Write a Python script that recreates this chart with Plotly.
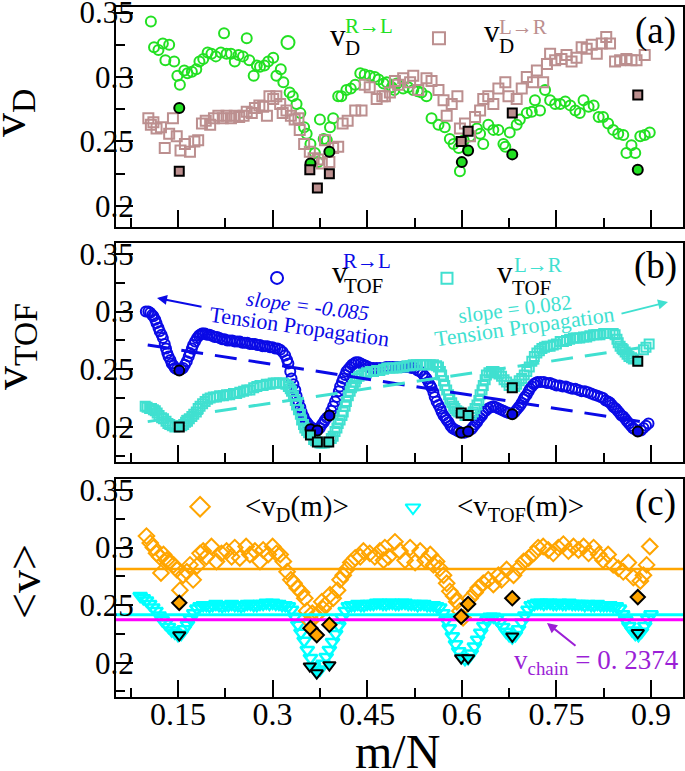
import plotly.graph_objects as go

# ---------------- data ----------------
x_tick_vals = [0.15, 0.3, 0.45, 0.6, 0.75, 0.9]
x_tick_text = ["0.15", "0.3", "0.45", "0.6", "0.75", "0.9"]
x_minor_vals = [0.075, 0.225, 0.375, 0.525, 0.675, 0.825]
y_tick_vals = [0.2, 0.25, 0.3, 0.35]
y_tick_text = ["0.2", "0.25", "0.3", "0.35"]
y_minor_vals = [0.175, 0.225, 0.275, 0.325]

# panel (a): v_D  R->L (green circles)
vd_rl_x = [0.107,0.112,0.119,0.126,0.130,0.136,0.144,0.149,0.153,0.160,0.165,0.172,0.179,0.184,0.190,0.197,0.203,0.210,0.218,0.223,
           0.227,0.234,0.240,0.246,0.253,0.259,0.263,0.270,0.275,0.280,0.287,0.293,0.301,0.306,0.313,0.317,0.327,0.332,0.338,0.344,
           0.350,0.354,0.360,0.367,0.372,0.375,0.381,0.386,0.391,0.396,0.404,0.409,0.417,0.424,0.431,0.439,0.446,0.454,0.462,0.468,
           0.476,0.481,0.489,0.493,0.497,0.507,0.515,0.523,0.530,0.536,0.544,0.552,0.563,0.573,0.581,0.587,0.595,0.597,0.603,0.613,
           0.624,0.629,0.634,0.642,0.650,0.658,0.666,0.669,0.676,0.687,0.692,0.703,0.711,0.716,0.724,0.732,0.740,0.748,0.756,0.764,
           0.772,0.780,0.787,0.793,0.801,0.809,0.817,0.824,0.832,0.840,0.848,0.856,0.861,0.869,0.875,0.883,0.890,0.898]
vd_rl_y = [0.343,0.323,0.321,0.326,0.313,0.325,0.312,0.301,0.294,0.305,0.303,0.304,0.306,0.312,0.314,0.319,0.318,0.316,0.319,0.334,
           0.318,0.318,0.312,0.317,0.316,0.330,0.313,0.301,0.309,0.308,0.309,0.312,0.315,0.301,0.306,0.296,0.288,0.285,0.279,0.272,
           0.261,0.256,0.248,0.241,0.234,0.267,0.252,0.251,0.261,0.268,0.285,0.285,0.290,0.291,0.294,0.303,0.302,0.301,0.300,0.298,
           0.295,0.296,0.292,0.290,0.295,0.291,0.292,0.290,0.289,0.288,0.285,0.268,0.263,0.261,0.252,0.248,0.245,0.227,0.251,0.254,
           0.260,0.256,0.248,0.263,0.259,0.259,0.248,0.246,0.257,0.263,0.267,0.272,0.273,0.282,0.274,0.290,0.282,0.279,0.279,0.281,
           0.278,0.274,0.272,0.282,0.277,0.278,0.269,0.269,0.264,0.259,0.256,0.255,0.241,0.247,0.241,0.254,0.255,0.257]

# panel (a): v_D  L->R (rosy-brown squares)
vd_lr_x = [0.103,0.107,0.111,0.116,0.123,0.129,0.136,0.142,0.148,0.154,0.161,0.169,0.176,0.182,0.188,0.194,0.201,0.207,0.214,0.221,
           0.227,0.234,0.240,0.247,0.254,0.259,0.267,0.272,0.279,0.285,0.291,0.295,0.301,0.306,0.312,0.316,0.322,0.329,0.335,0.341,
           0.343,0.350,0.359,0.365,0.372,0.378,0.383,0.390,0.396,0.404,0.411,0.419,0.431,0.441,0.446,0.454,0.465,0.474,0.478,0.486,
           0.494,0.499,0.507,0.518,0.523,0.531,0.544,0.552,0.563,0.571,0.576,0.584,0.593,0.597,0.605,0.613,0.621,0.629,0.634,0.642,
           0.650,0.658,0.669,0.674,0.687,0.695,0.703,0.713,0.719,0.729,0.735,0.740,0.748,0.758,0.766,0.774,0.782,0.790,0.798,0.806,
           0.814,0.822,0.829,0.835,0.843,0.851,0.861,0.869,0.877,0.890]
vd_lr_y = [0.268,0.263,0.265,0.260,0.261,0.245,0.256,0.268,0.254,0.243,0.248,0.242,0.250,0.251,0.264,0.266,0.263,0.268,0.270,0.268,
           0.270,0.268,0.270,0.269,0.270,0.273,0.272,0.276,0.278,0.277,0.270,0.285,0.283,0.285,0.279,0.272,0.274,0.270,0.267,0.268,
           0.259,0.248,0.242,0.237,0.236,0.233,0.251,0.234,0.245,0.246,0.264,0.266,0.274,0.274,0.294,0.292,0.283,0.285,0.285,0.288,
           0.297,0.294,0.299,0.296,0.301,0.290,0.299,0.297,0.290,0.282,0.270,0.279,0.285,0.260,0.264,0.254,0.269,0.274,0.283,0.285,
           0.279,0.291,0.296,0.285,0.283,0.291,0.300,0.296,0.305,0.296,0.310,0.318,0.313,0.314,0.317,0.312,0.315,0.323,0.322,0.325,
           0.318,0.326,0.331,0.326,0.312,0.313,0.314,0.313,0.313,0.317]

# highlighted (filled) points, panel (a)
vd_rl_hl_x = [0.152, 0.360, 0.390, 0.600, 0.610, 0.680, 0.879]
vd_rl_hl_y = [0.276, 0.233, 0.242, 0.234, 0.243, 0.240, 0.228]
vd_lr_hl_x = [0.152, 0.359, 0.371, 0.390, 0.599, 0.610, 0.680, 0.879]
vd_lr_hl_y = [0.227, 0.228, 0.214, 0.225, 0.250, 0.258, 0.272, 0.286]

# panel (b): v_TOF  R->L (blue circles)
vtof_rl_x = [0.099,0.103,0.106,0.109,0.111,0.114,0.116,0.119,0.121,0.124,0.126,0.129,0.131,0.133,0.135,0.138,0.140,0.143,0.145,0.148,
             0.155,0.158,0.161,0.164,0.167,0.169,0.172,0.174,0.177,0.180,0.183,0.185,0.188,0.190,0.193,0.196,0.200,0.204,0.208,0.212,
             0.216,0.220,0.224,0.228,0.232,0.236,0.240,0.244,0.248,0.252,0.256,0.260,0.264,0.268,0.272,0.276,0.280,0.284,0.288,0.292,
             0.296,0.300,0.304,0.308,0.312,0.316,0.320,0.323,0.325,0.328,0.330,0.333,0.336,0.338,0.341,0.344,0.346,0.349,0.351,0.354,
             0.357,0.360,0.363,0.366,0.369,0.375,0.378,0.381,0.383,0.386,0.393,0.396,0.399,0.402,0.405,0.407,0.410,0.412,0.415,0.417,
             0.420,0.423,0.426,0.429,0.432,0.436,0.440,0.444,0.448,0.452,0.456,0.460,0.465,0.470,0.475,0.480,0.485,0.490,0.495,0.500,
             0.505,0.510,0.515,0.520,0.525,0.530,0.534,0.538,0.541,0.544,0.547,0.550,0.552,0.555,0.557,0.560,0.563,0.566,0.568,0.571,
             0.574,0.576,0.579,0.582,0.585,0.588,0.592,0.595,0.604,0.615,0.618,0.621,0.624,0.626,0.629,0.632,0.634,0.638,0.642,0.646,
             0.650,0.654,0.658,0.662,0.666,0.670,0.674,0.684,0.687,0.690,0.693,0.695,0.698,0.700,0.703,0.706,0.708,0.711,0.714,0.717,
             0.720,0.725,0.730,0.735,0.740,0.745,0.750,0.755,0.760,0.765,0.770,0.775,0.780,0.785,0.790,0.795,0.800,0.805,0.810,0.815,
             0.820,0.824,0.828,0.832,0.835,0.838,0.841,0.844,0.847,0.850,0.853,0.856,0.859,0.862,0.865,0.868,0.871,0.874,0.884,0.888,
             0.892,0.896]
vtof_rl_y = [0.300,0.300,0.299,0.297,0.296,0.293,0.290,0.286,0.283,0.280,0.277,0.272,0.268,0.264,0.261,0.258,0.255,0.253,0.251,0.250,
             0.250,0.251,0.254,0.257,0.261,0.264,0.268,0.271,0.274,0.277,0.279,0.280,0.281,0.281,0.281,0.280,0.280,0.279,0.278,0.278,
             0.277,0.276,0.276,0.275,0.275,0.275,0.274,0.274,0.274,0.273,0.273,0.273,0.272,0.272,0.272,0.271,0.271,0.270,0.270,0.270,
             0.269,0.269,0.268,0.268,0.267,0.265,0.262,0.258,0.255,0.248,0.242,0.237,0.232,0.227,0.222,0.217,0.213,0.209,0.206,0.204,
             0.202,0.200,0.199,0.198,0.197,0.199,0.202,0.204,0.206,0.208,0.214,0.218,0.222,0.226,0.231,0.235,0.239,0.242,0.245,0.248,
             0.250,0.252,0.254,0.255,0.256,0.256,0.255,0.254,0.253,0.252,0.251,0.251,0.251,0.251,0.251,0.252,0.252,0.252,0.252,0.252,
             0.252,0.252,0.252,0.251,0.251,0.249,0.248,0.246,0.244,0.242,0.239,0.236,0.234,0.230,0.226,0.222,0.219,0.216,0.213,0.210,
             0.208,0.206,0.204,0.201,0.199,0.198,0.197,0.196,0.195,0.198,0.200,0.202,0.204,0.206,0.208,0.210,0.212,0.214,0.216,0.217,
             0.218,0.217,0.216,0.215,0.214,0.213,0.212,0.213,0.215,0.217,0.219,0.221,0.224,0.226,0.228,0.231,0.233,0.235,0.237,0.238,
             0.239,0.239,0.239,0.238,0.238,0.237,0.236,0.236,0.235,0.235,0.234,0.233,0.233,0.232,0.231,0.231,0.230,0.229,0.228,0.227,
             0.226,0.225,0.223,0.222,0.221,0.219,0.217,0.216,0.214,0.212,0.210,0.209,0.207,0.205,0.203,0.201,0.199,0.198,0.197,0.199,
             0.201,0.203]

# panel (b): v_TOF  L->R (turquoise squares)
vtof_lr_x = [0.098,0.101,0.105,0.108,0.111,0.114,0.117,0.120,0.124,0.127,0.131,0.134,0.137,0.141,0.145,0.156,0.159,0.162,0.165,0.168,
             0.172,0.175,0.179,0.182,0.185,0.189,0.193,0.197,0.201,0.206,0.211,0.216,0.222,0.227,0.232,0.238,0.243,0.248,0.254,0.259,
             0.264,0.270,0.275,0.280,0.285,0.290,0.296,0.301,0.306,0.311,0.317,0.321,0.325,0.328,0.330,0.333,0.336,0.338,0.341,0.344,
             0.346,0.349,0.351,0.354,0.357,0.365,0.368,0.375,0.378,0.382,0.385,0.393,0.396,0.399,0.402,0.404,0.407,0.410,0.412,0.415,
             0.417,0.420,0.423,0.425,0.428,0.431,0.433,0.437,0.441,0.445,0.449,0.455,0.460,0.465,0.470,0.476,0.481,0.486,0.491,0.497,
             0.502,0.508,0.513,0.518,0.523,0.528,0.534,0.539,0.544,0.550,0.555,0.560,0.563,0.566,0.568,0.571,0.573,0.576,0.579,0.581,
             0.584,0.587,0.589,0.592,0.595,0.605,0.615,0.618,0.621,0.624,0.627,0.629,0.632,0.634,0.637,0.639,0.643,0.647,0.651,0.655,
             0.659,0.663,0.667,0.671,0.675,0.684,0.687,0.691,0.695,0.699,0.703,0.707,0.711,0.715,0.719,0.723,0.727,0.731,0.735,0.740,
             0.745,0.750,0.756,0.761,0.766,0.771,0.777,0.782,0.787,0.793,0.798,0.803,0.809,0.814,0.819,0.825,0.830,0.835,0.840,0.843,
             0.846,0.848,0.851,0.854,0.856,0.859,0.862,0.865,0.869,0.872,0.888,0.892,0.897]
vtof_lr_y = [0.218,0.217,0.216,0.216,0.215,0.214,0.212,0.210,0.208,0.207,0.205,0.203,0.202,0.201,0.200,0.201,0.202,0.204,0.205,0.207,
             0.209,0.211,0.213,0.216,0.218,0.220,0.222,0.224,0.225,0.226,0.226,0.227,0.227,0.228,0.228,0.229,0.229,0.230,0.231,0.232,
             0.232,0.234,0.235,0.236,0.236,0.237,0.237,0.238,0.238,0.238,0.238,0.237,0.235,0.233,0.231,0.227,0.223,0.219,0.215,0.211,
             0.206,0.202,0.199,0.197,0.195,0.189,0.188,0.186,0.186,0.186,0.187,0.190,0.192,0.196,0.199,0.203,0.206,0.210,0.213,0.218,
             0.222,0.227,0.231,0.234,0.236,0.239,0.242,0.244,0.245,0.246,0.247,0.248,0.248,0.249,0.249,0.250,0.251,0.251,0.251,0.251,
             0.252,0.252,0.253,0.253,0.254,0.254,0.254,0.254,0.254,0.254,0.254,0.253,0.252,0.248,0.245,0.240,0.236,0.232,0.228,0.224,
             0.221,0.218,0.216,0.214,0.213,0.210,0.211,0.213,0.216,0.219,0.223,0.228,0.232,0.236,0.241,0.245,0.247,0.248,0.248,0.247,
             0.246,0.244,0.241,0.239,0.236,0.235,0.237,0.240,0.242,0.245,0.248,0.252,0.257,0.261,0.264,0.266,0.268,0.269,0.270,0.270,
             0.271,0.272,0.274,0.274,0.275,0.276,0.277,0.277,0.277,0.278,0.278,0.279,0.280,0.280,0.280,0.281,0.281,0.281,0.281,0.280,
             0.276,0.273,0.270,0.268,0.267,0.265,0.263,0.261,0.260,0.259,0.267,0.269,0.272]

vtof_rl_hl_x = [0.152, 0.360, 0.371, 0.390, 0.599, 0.610, 0.680, 0.879]
vtof_rl_hl_y = [0.249, 0.198, 0.197, 0.210, 0.195, 0.196, 0.211, 0.196]
vtof_lr_hl_x = [0.152, 0.360, 0.371, 0.389, 0.599, 0.610, 0.680, 0.879]
vtof_lr_hl_y = [0.200, 0.193, 0.187, 0.187, 0.212, 0.210, 0.234, 0.257]

# linear fits (tension propagation)
fit_x = [0.102, 0.886]
fit_rl_y = [0.2711, 0.2044]   # slope -0.085
fit_lr_y = [0.2046, 0.2689]   # slope  0.082

# panel (c): <v_D(m)> (orange diamonds)
mean_vd_x = [0.100,0.106,0.111,0.116,0.121,0.123,0.127,0.132,0.137,0.143,0.148,0.153,0.158,0.164,0.169,0.174,0.180,0.185,0.190,0.195,
             0.203,0.211,0.219,0.227,0.235,0.240,0.248,0.258,0.264,0.272,0.280,0.285,0.293,0.300,0.306,0.312,0.317,0.323,0.329,0.334,
             0.339,0.346,0.351,0.354,0.359,0.363,0.369,0.374,0.378,0.380,0.383,0.391,0.396,0.403,0.407,0.412,0.417,0.424,0.431,0.439,
             0.444,0.454,0.462,0.470,0.476,0.478,0.484,0.494,0.502,0.510,0.518,0.526,0.534,0.542,0.550,0.555,0.560,0.565,0.571,0.576,
             0.581,0.587,0.592,0.597,0.602,0.613,0.621,0.626,0.634,0.642,0.650,0.658,0.663,0.671,0.682,0.690,0.698,0.706,0.714,0.721,
             0.729,0.737,0.745,0.753,0.761,0.769,0.777,0.785,0.793,0.801,0.809,0.817,0.824,0.832,0.840,0.848,0.856,0.864,0.872,0.883,
             0.888,0.893,0.898]
mean_vd_y = [0.310,0.304,0.300,0.295,0.292,0.278,0.294,0.289,0.288,0.285,0.281,0.263,0.276,0.279,0.285,0.272,0.284,0.295,0.297,0.292,
             0.301,0.288,0.295,0.297,0.292,0.300,0.291,0.301,0.294,0.297,0.288,0.298,0.294,0.301,0.295,0.294,0.288,0.279,0.272,0.269,
             0.265,0.261,0.256,0.245,0.236,0.243,0.241,0.244,0.253,0.247,0.250,0.259,0.256,0.263,0.272,0.276,0.281,0.287,0.291,0.292,
             0.297,0.295,0.292,0.297,0.289,0.300,0.292,0.305,0.297,0.289,0.300,0.287,0.297,0.289,0.294,0.285,0.288,0.282,0.276,0.269,
             0.262,0.258,0.253,0.245,0.239,0.256,0.261,0.265,0.269,0.272,0.268,0.276,0.272,0.281,0.276,0.282,0.288,0.291,0.295,0.300,
             0.301,0.298,0.295,0.300,0.303,0.297,0.301,0.298,0.301,0.295,0.300,0.294,0.289,0.294,0.285,0.282,0.279,0.287,0.274,0.271,
             0.276,0.285,0.301]

# panel (c): <v_TOF(m)> (cyan triangles)
mean_vtof_x = [0.090,0.095,0.100,0.105,0.110,0.115,0.120,0.125,0.130,0.135,0.140,0.145,0.150,0.155,0.160,0.165,0.170,0.175,0.180,0.185,
               0.190,0.195,0.200,0.205,0.210,0.215,0.220,0.225,0.230,0.235,0.240,0.245,0.250,0.255,0.260,0.265,0.270,0.275,0.280,0.285,
               0.290,0.295,0.300,0.305,0.310,0.315,0.320,0.325,0.330,0.335,0.340,0.345,0.350,0.355,0.360,0.365,0.370,0.375,0.380,0.385,
               0.390,0.395,0.400,0.405,0.410,0.415,0.420,0.425,0.430,0.435,0.440,0.445,0.450,0.455,0.460,0.465,0.470,0.475,0.480,0.485,
               0.490,0.495,0.500,0.505,0.510,0.515,0.520,0.525,0.530,0.535,0.540,0.545,0.550,0.555,0.560,0.565,0.570,0.575,0.580,0.585,
               0.590,0.595,0.600,0.605,0.610,0.615,0.620,0.625,0.630,0.635,0.640,0.645,0.650,0.655,0.660,0.665,0.670,0.675,0.680,0.685,
               0.690,0.695,0.700,0.705,0.710,0.715,0.720,0.725,0.730,0.735,0.740,0.745,0.750,0.755,0.760,0.765,0.770,0.775,0.780,0.785,
               0.790,0.795,0.800,0.805,0.810,0.815,0.820,0.825,0.830,0.835,0.840,0.845,0.850,0.855,0.860,0.865,0.870,0.875,0.880,0.885,
               0.890,0.895,0.900]
mean_vtof_y = [0.258,0.256,0.254,0.251,0.248,0.245,0.241,0.237,0.234,0.231,0.228,0.226,0.224,0.225,0.229,0.233,0.238,0.243,0.247,0.249,
               0.250,0.250,0.249,0.250,0.251,0.250,0.249,0.250,0.250,0.251,0.250,0.250,0.249,0.250,0.251,0.251,0.250,0.250,0.251,0.251,
               0.252,0.251,0.252,0.251,0.251,0.250,0.250,0.249,0.246,0.240,0.233,0.226,0.219,0.211,0.204,0.197,0.192,0.194,0.199,0.205,
               0.211,0.218,0.225,0.232,0.239,0.245,0.249,0.250,0.250,0.251,0.250,0.250,0.251,0.251,0.251,0.252,0.252,0.251,0.251,0.252,
               0.252,0.251,0.251,0.252,0.252,0.251,0.251,0.251,0.250,0.251,0.251,0.250,0.250,0.250,0.249,0.248,0.243,0.237,0.230,0.223,
               0.216,0.210,0.205,0.203,0.204,0.208,0.214,0.220,0.226,0.232,0.237,0.240,0.240,0.238,0.235,0.231,0.227,0.224,0.222,0.224,
               0.229,0.235,0.241,0.246,0.250,0.251,0.252,0.252,0.251,0.252,0.252,0.251,0.251,0.252,0.251,0.251,0.252,0.251,0.251,0.251,
               0.251,0.250,0.251,0.250,0.250,0.251,0.250,0.250,0.250,0.250,0.249,0.249,0.247,0.242,0.237,0.232,0.228,0.225,0.224,0.227,
               0.232,0.238,0.242]

mean_vd_hl_x = [0.152, 0.360, 0.370, 0.390, 0.599, 0.610, 0.680, 0.879]
mean_vd_hl_y = [0.252, 0.230, 0.224, 0.233, 0.240, 0.251, 0.256, 0.257]
mean_vtof_hl_x = [0.152, 0.359, 0.370, 0.390, 0.599, 0.610, 0.680, 0.879]
mean_vtof_hl_y = [0.224, 0.197, 0.191, 0.198, 0.204, 0.204, 0.223, 0.226]

vd_overall = 0.2814
vtof_overall = 0.2417
v_chain = 0.2374

# ---------------- styling / layout ----------------
X_RANGE = [0.0517, 0.9507]
L, T, W, H = 116, 7, 567, 690
SERIF = "Liberation Serif"

GREEN = "#22e022"
BROWN = "#bc8f8f"
BLUE = "#0a0ae6"
TURQ = "#40e0d0"
ORANGE = "#ffa500"
CYAN = "#00ffff"
MAGENTA = "#ff00ff"
VIOLET = "#9b1fd6"


def P(px, py):
    return (px - L) / W, (T + H - py) / H


fig = go.Figure()


def sc(x, y, ax, symbol, color, size, lw=2, lcolor=None):
    marker = dict(symbol=symbol, color=color, size=size,
                  line=dict(width=lw, color=lcolor if lcolor else color))
    fig.add_trace(go.Scatter(x=x, y=y, mode="markers", marker=marker,
                             xaxis="x" + ax, yaxis="y" + ax, showlegend=False,
                             hoverinfo="skip", cliponaxis=False))


# panel a
sc(vd_rl_x, vd_rl_y, "", "circle-open", GREEN, 10)
sc(vd_lr_x, vd_lr_y, "", "square-open", BROWN, 10)
sc(vd_rl_hl_x, vd_rl_hl_y, "", "circle", GREEN, 10, 2, "black")
sc(vd_lr_hl_x, vd_lr_hl_y, "", "square", BROWN, 9, 2, "black")
# legend symbols (a)
sc([0.3244], [0.3268], "", "circle-open", GREEN, 13)
sc([0.5638], [0.3300], "", "square-open", BROWN, 12)

# panel b
sc(vtof_rl_x, vtof_rl_y, "2", "circle-open", BLUE, 10)
sc(vtof_lr_x, vtof_lr_y, "2", "square-open", TURQ, 9)
fig.add_trace(go.Scatter(x=fit_x, y=fit_rl_y, mode="lines", xaxis="x2", yaxis="y2",
                         line=dict(color=BLUE, width=3, dash="22px,12px"), showlegend=False))
fig.add_trace(go.Scatter(x=fit_x, y=fit_lr_y, mode="lines", xaxis="x2", yaxis="y2",
                         line=dict(color=TURQ, width=3, dash="22px,12px"), showlegend=False))
sc(vtof_rl_hl_x, vtof_rl_hl_y, "2", "circle", BLUE, 10, 2, "black")
sc(vtof_lr_hl_x, vtof_lr_hl_y, "2", "square", TURQ, 9, 2, "black")
sc([0.307], [0.3292], "2", "circle-open", BLUE, 12)
sc([0.5765], [0.3290], "2", "square-open", TURQ, 11)

# panel c
sc(mean_vtof_x, mean_vtof_y, "3", "triangle-down-open", CYAN, 12, 2.5)
sc(mean_vd_x, mean_vd_y, "3", "diamond-open", ORANGE, 12)
for yv, col, w in [(vd_overall, ORANGE, 2.5), (vtof_overall, CYAN, 3), (v_chain, MAGENTA, 3)]:
    fig.add_trace(go.Scatter(x=X_RANGE, y=[yv, yv], mode="lines", xaxis="x3", yaxis="y3",
                             line=dict(color=col, width=w), showlegend=False, hoverinfo="skip"))
sc(mean_vd_hl_x, mean_vd_hl_y, "3", "diamond", ORANGE, 11, 2, "black")
sc(mean_vtof_hl_x, mean_vtof_hl_y, "3", "triangle-down", CYAN, 11, 2, "black")
sc([0.185], [0.3355], "3", "diamond-open", ORANGE, 15)
sc([0.5226], [0.3347], "3", "triangle-down-open", CYAN, 13)

axis_common = dict(showline=True, linecolor="black", linewidth=2, mirror=True,
                   ticks="inside", ticklen=17, tickwidth=2, tickcolor="black",
                   showgrid=False, zeroline=False, automargin=False,
                   ticklabeloverflow="allow")

xcommon = dict(axis_common, range=X_RANGE, domain=[0, 1], tickmode="array",
               tickvals=x_tick_vals, ticktext=x_tick_text, ticklabelstandoff=-12,
               minor=dict(ticks="inside", ticklen=9, tickwidth=2, tickcolor="black",
                          tickvals=x_minor_vals),
               tickfont=dict(family=SERIF, size=32, color="black"))
ycommon = dict(axis_common, tickmode="array", tickvals=y_tick_vals, ticktext=y_tick_text,
               ticklabelstandoff=-26,
               minor=dict(ticks="inside", ticklen=9, tickwidth=2, tickcolor="black",
                          tickvals=y_minor_vals),
               tickfont=dict(family=SERIF, size=31, color="black"))

fig.update_layout(
    width=685, height=771,
    margin=dict(l=L, r=685 - L - W, t=T, b=771 - T - H, autoexpand=False),
    paper_bgcolor="white", plot_bgcolor="white",
    font=dict(family=SERIF, color="black"),
    xaxis=dict(xcommon, anchor="y", showticklabels=False),
    xaxis2=dict(xcommon, anchor="y2", showticklabels=False),
    xaxis3=dict(xcommon, anchor="y3"),
    yaxis=dict(ycommon, anchor="x", domain=[0.6812, 1.0], range=[0.1837, 0.3543]),
    yaxis2=dict(ycommon, anchor="x2", domain=[0.3406, 0.6580], range=[0.1696, 0.3595]),
    yaxis3=dict(ycommon, anchor="x3", domain=[0.0, 0.3159], range=[0.1702, 0.3596]),
)

ann = []


def text(px, py, s, size, color="black", xanchor="center", angle=0):
    x, y = P(px, py)
    ann.append(dict(x=x, y=y, xref="paper", yref="paper", text=s, showarrow=False,
                    xanchor=xanchor, yanchor="middle", textangle=angle,
                    font=dict(family=SERIF, size=size, color=color)))


def arrow(hx, hy, tx, ty, color):
    x, y = P(hx, hy)
    ann.append(dict(x=x, y=y, xref="paper", yref="paper", text="", showarrow=True,
                    ax=tx - hx, ay=ty - hy, arrowhead=2, arrowsize=1, arrowwidth=2,
                    arrowcolor=color, standoff=0))


# axis titles
text(12, 113, "v<sub>D</sub>", 48, angle=-90)
text(14, 347, "v<sub>TOF</sub>", 48, angle=-90)
text(24, 582, "&lt;v&gt;", 46, angle=-90)
text(397, 752, "m/N", 48)

# panel labels
text(655, 31, "(a)", 37)
text(655, 266, "(b)", 37)
text(655, 503, "(c)", 37)

# legend texts (a)
text(328, 35, "v", 31, xanchor="left")
text(343, 48, "D", 21, xanchor="left")
text(343, 26, "R→L", 21, GREEN, xanchor="left")
text(482, 31, "v", 31, xanchor="left")
text(497, 46, "D", 21, xanchor="left")
text(497, 27, "L→R", 21, BROWN, xanchor="left")

# legend texts (b)
text(330, 272, "v", 31, xanchor="left")
text(342, 286, "TOF", 21, xanchor="left")
text(341, 261, "R→L", 21, BLUE, xanchor="left")
text(495, 272, "v", 31, xanchor="left")
text(510, 288, "TOF", 21, xanchor="left")
text(512, 265, "L→R", 21, TURQ, xanchor="left")

# slope annotations (b)
text(307, 306, "<i>slope = -0.085</i>", 21, BLUE, angle=7)
text(299, 326, "Tension Propagation", 22, BLUE, angle=8)
arrow(157, 298, 203, 307, BLUE)
text(515, 309, "slope = 0.082", 21, TURQ, angle=-7)
text(524, 327, "Tension Propagation", 22, TURQ, angle=-8)
arrow(668, 302, 620, 314, TURQ)

# legend texts (c)
text(243, 508, "&lt;v<sub>D</sub>(m)&gt;", 29, xanchor="left")
text(455, 508, "&lt;v<sub>TOF</sub>(m)&gt;", 29, xanchor="left")

# v_chain
text(512, 662, "v<sub>chain</sub> = 0. 2374", 27, VIOLET, xanchor="left")
arrow(547, 623, 577, 647, VIOLET)

fig.update_layout(annotations=ann)
fig.write_html("out.html", config={"displayModeBar": False},
               post_script="document.body.style.margin='0';document.body.style.overflow='hidden';")
